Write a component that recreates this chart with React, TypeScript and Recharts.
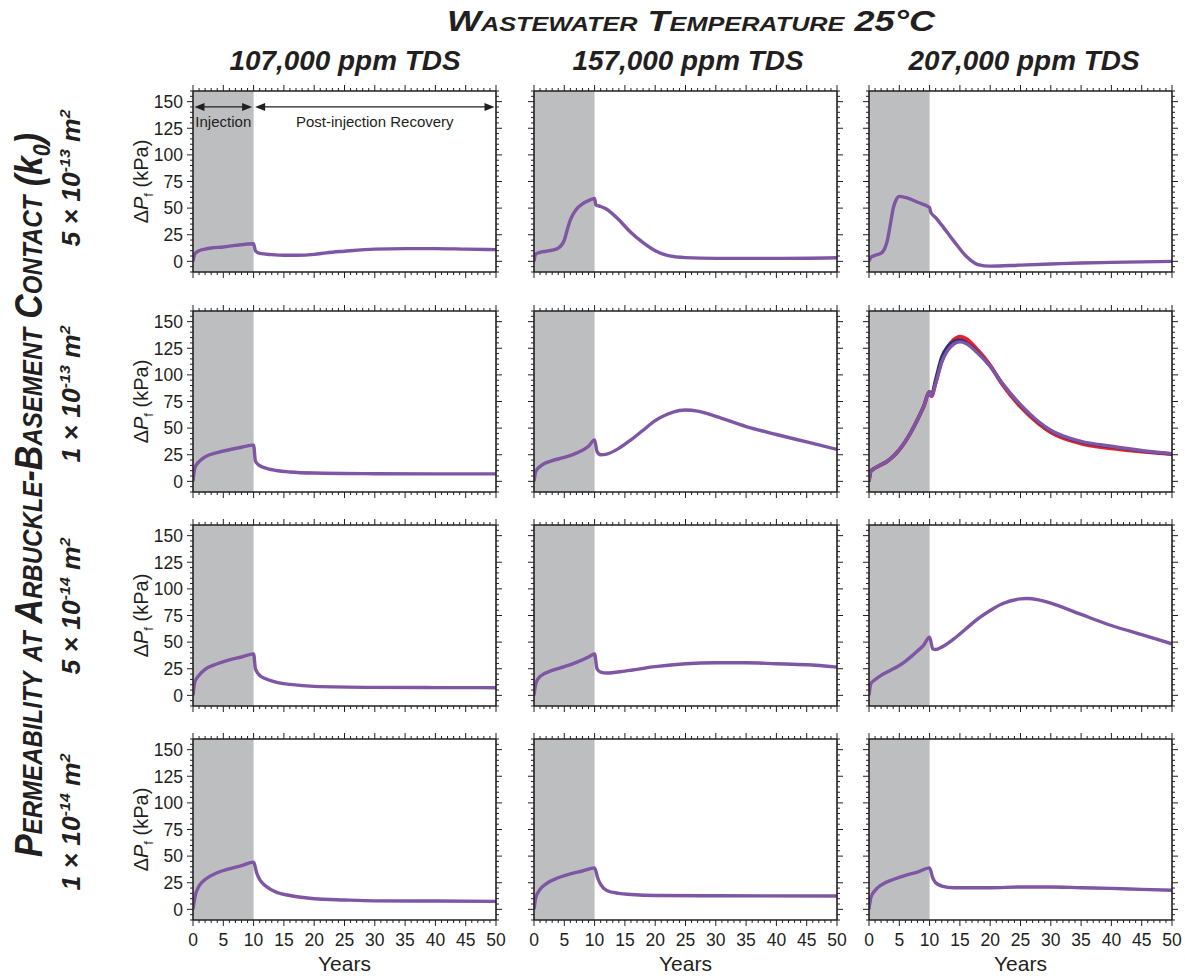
import React from 'react';
import { LineChart, Line, XAxis, YAxis, ReferenceArea, ReferenceLine } from 'recharts';

// ---- data (ΔPf in kPa vs. years) ----
// rows: permeability 5e-13, 1e-13, 5e-14, 1e-14 m2 ; cols: 107k, 157k, 207k ppm TDS

const t11 = [0, 0.3, 1, 2, 3, 5, 7, 10, 10.3, 11, 13, 15, 17, 20, 22, 25, 30, 35, 40, 45, 50];
const dp11 = [0, 7, 10, 11.5, 12.5, 13.5, 15, 16.5, 10, 7.5, 6.3, 5.7, 5.7, 6.5, 8, 9.5, 11.5, 12, 12, 11.5, 11];

const t12 = [0, 0.3, 1, 2, 3, 4, 4.5, 5, 5.5, 6, 7, 8, 9, 10, 10.2, 11, 12, 14, 16, 18, 20, 22, 25, 30, 40, 50];
const dp12 = [0, 7, 8.5, 9.5, 10.5, 12.5, 15, 20, 30, 39, 49, 54, 57, 59, 53, 51.5, 49, 39, 27, 17.5, 10, 5.6, 3.5, 2.8, 2.8, 3.4];

const t13 = [0, 0.3, 1, 2, 2.5, 3, 3.5, 4, 4.5, 5, 6, 8, 10, 10.2, 11, 12, 14, 16, 18, 20, 25, 30, 35, 40, 50];
const dp13 = [0, 3.8, 5.6, 7.8, 11, 19, 34, 50, 58, 61, 60, 55.5, 50.5, 46, 41, 34, 19, 5, -3, -4.5, -3.5, -2.5, -1.5, -1, 0];

const t21 = [0, 0.3, 1, 2, 4, 6, 8, 10, 10.3, 11, 12, 14, 16, 20, 30, 40, 50];
const dp21 = [0, 12.5, 18.5, 23, 27, 29.7, 32, 34, 19, 14.7, 12.5, 10, 8.8, 7.8, 7.2, 7, 7];

const t22 = [0, 0.3, 1, 3, 5, 7, 9, 10, 10.4, 11, 12, 14, 16, 18, 20, 22, 24, 25, 27, 30, 35, 40, 45, 50];
const dp22 = [0, 9.4, 14, 19.4, 22.5, 26.5, 33, 39, 28, 25, 25.6, 31, 39, 48, 57, 63, 66.5, 67, 66, 61, 51.5, 44, 37, 30];

const t23 = [0, 0.3, 1, 2, 3, 4, 5, 6, 7, 8, 9, 10, 10.3, 11, 12, 13, 14, 15, 16, 18, 20, 22, 25, 28, 30, 35, 40, 45, 50];
const dp23Red = [0, 9.4, 12.5, 15.6, 18.8, 23.4, 29.7, 37.5, 47, 58, 70, 84, 80, 93, 113, 126, 133, 136, 134, 123, 109, 91, 70, 54, 46, 35.5, 31, 28, 25.5];
const dp23Navy = [0, 9.4, 12.5, 15.6, 18.8, 23.4, 29.7, 37.5, 47, 58, 70, 84, 81, 96, 117, 127, 131.5, 133, 130.5, 121, 108, 92, 71.5, 55.5, 47.5, 37, 32.5, 28.5, 25.5];
const dp23 = [0, 9.4, 12.5, 15.6, 18.8, 23.4, 29.7, 37.5, 47, 58, 70, 84, 80, 92, 112, 123, 129, 131, 129.5, 120, 108, 92, 72, 56, 48, 37.5, 33, 29, 26];

const t31 = [0, 0.3, 1, 2, 4, 6, 8, 10, 10.3, 11, 12, 14, 16, 20, 30, 40, 50];
const dp31 = [0, 12.5, 18.8, 24.4, 29.7, 33.4, 36, 39, 25, 18.8, 15.6, 12, 10.3, 8.4, 7.5, 7.3, 7.2];

const t32 = [0, 0.3, 1, 3, 5, 7, 9, 10, 10.4, 11, 12, 15, 20, 25, 30, 35, 40, 45, 50];
const dp32 = [0, 11, 17.8, 23.4, 27, 31, 36, 39, 25, 21.9, 21, 22.8, 27, 29.7, 30.6, 30.6, 29.7, 28.7, 26.5];

const t33 = [0, 0.3, 1, 2, 3, 4, 5, 6, 7, 8, 9, 10, 10.5, 11, 12, 14, 16, 18, 20, 22, 25, 26, 28, 30, 35, 40, 45, 50];
const dp33 = [0, 11, 14.7, 18.8, 21.9, 25, 28, 32, 36.6, 41.6, 47, 54.7, 43.8, 43, 45.3, 53, 62.5, 72, 79.7, 86, 90.6, 91, 89.7, 86.6, 76, 65.6, 57, 48.4];

const t41 = [0, 0.3, 1, 2, 4, 6, 8, 10, 10.5, 11, 12, 14, 16, 20, 25, 30, 40, 50];
const dp41 = [0, 11, 21.9, 28, 34.4, 38, 41, 44.4, 34.4, 28, 21.9, 15.6, 13, 10, 8.8, 8, 7.8, 7.5];

const t42 = [0, 0.3, 1, 2, 4, 6, 8, 10, 10.5, 11, 12, 14, 16, 20, 30, 50];
const dp42 = [0, 11, 18.8, 24, 29.7, 33.4, 36, 39, 29.7, 23.4, 17.8, 15, 14, 13, 12.8, 12.5];

const t43 = [0, 0.3, 1, 2, 4, 6, 8, 10, 10.5, 11, 12, 14, 20, 25, 30, 35, 40, 45, 50];
const dp43 = [0, 11, 17.8, 22.8, 28, 32, 35, 39, 29.7, 25, 21.9, 20.3, 20.3, 21, 21, 20.3, 19.7, 18.8, 18];

const tdsLabels = ['107,000 ppm TDS', '157,000 ppm TDS', '207,000 ppm TDS'];
const permLabels = [
  { m: '5', e: '-13' },
  { m: '1', e: '-13' },
  { m: '5', e: '-14' },
  { m: '1', e: '-14' },
];
const phases = [
  { name: 'Injection', from: 0, to: 10 },
  { name: 'Post-injection Recovery', from: 10, to: 50 },
];
const PHASE_Y = 145;
const INJ_END = 10;

const X_TICKS = Array.from({ length: 51 }, (_, i) => i);
const Y_TICKS = Array.from({ length: 35 }, (_, i) => -10 + i * 5);

// ---- styling / layout ----
const INK = '#231f20';
const GRAY = '#bcbec0';
const PURPLE = '#7f56a3';
const RED = '#e8202a';
const NAVY = '#27307a';
const FONT = '"Liberation Sans", Arial, Helvetica, sans-serif';

const COL_X = [193, 534, 869];
const ROW_Y = [91, 311, 525, 739];
const PW = 303;
const PH = 181;
const AX = 1;
const ML = 69;
const MR = 29;
const MT = 19;
const MB = 59;
const CW = PW + ML + MR + 2 * AX;
const CH = PH + MT + MB + 2 * AX;
const FRAME = { stroke: INK, strokeWidth: 1.6 };

type Series = { dp: number[]; color: string; width: number };
type Cell = { t: number[]; lines: Series[] };

const pts = (t: number[], dp: number[]) => t.map((x, i) => ({ t: x, dp: dp[i] }));
const one = (t: number[], dp: number[]): Cell => ({ t, lines: [{ dp, color: PURPLE, width: 3.4 }] });

const GRID: Cell[][] = [
  [one(t11, dp11), one(t12, dp12), one(t13, dp13)],
  [
    one(t21, dp21),
    one(t22, dp22),
    {
      t: t23,
      lines: [
        { dp: dp23Red, color: RED, width: 3.8 },
        { dp: dp23Navy, color: NAVY, width: 3.2 },
        { dp: dp23, color: PURPLE, width: 3.4 },
      ],
    },
  ],
  [one(t31, dp31), one(t32, dp32), one(t33, dp33)],
  [one(t41, dp41), one(t42, dp42), one(t43, dp43)],
];

const isMajorX = (v: number) => v % 5 === 0;
const isMajorY = (v: number) => v % 25 === 0;

const BottomTick = ({ x, y, payload, show }: any) => {
  const major = isMajorX(payload.value);
  return (
    <g>
      <line x1={x} x2={x} y1={y} y2={y + (major ? 6 : 3)} stroke={INK} strokeWidth={1} />
      {show && major && (
        <text x={x} y={y + 26} textAnchor="middle" fontSize={17.5} fill={INK} fontFamily={FONT}>
          {payload.value}
        </text>
      )}
    </g>
  );
};

const TopTick = ({ x, y, payload }: any) => (
  <line x1={x} x2={x} y1={y} y2={y - (isMajorX(payload.value) ? 6 : 3)} stroke={INK} strokeWidth={1} />
);

const LeftTick = ({ x, y, payload, show }: any) => {
  const major = isMajorY(payload.value);
  return (
    <g>
      <line x1={x} x2={x - (major ? 6 : 3)} y1={y} y2={y} stroke={INK} strokeWidth={1} />
      {show && major && (
        <text x={x - 10} y={y} dy="0.36em" textAnchor="end" fontSize={17.5} fill={INK} fontFamily={FONT}>
          {payload.value}
        </text>
      )}
    </g>
  );
};

const RightTick = ({ x, y, payload }: any) => (
  <line x1={x} x2={x + (isMajorY(payload.value) ? 6 : 3)} y1={y} y2={y} stroke={INK} strokeWidth={1} />
);

const YLabel = ({ viewBox }: any) => {
  const vb = viewBox ?? { x: ML, y: MT + AX, width: AX, height: PH };
  const cx = vb.x + vb.width - 45;
  const cy = vb.y + vb.height / 2;
  return (
    <text transform={`rotate(-90, ${cx}, ${cy})`} x={cx} y={cy} textAnchor="middle" fontSize={20} fill={INK} fontFamily={FONT}>
      Δ<tspan fontStyle="italic">P</tspan>
      <tspan fontSize={13} dy={5}>f</tspan>
      <tspan dy={-5}> (kPa)</tspan>
    </text>
  );
};

const arrowShape = (name: string) => (p: any) => {
  const { x1, y1, x2 } = p;
  const a = x1 + 1.5;
  const b = x2 - 1.5;
  const hl = 10;
  const hw = 4;
  return (
    <g>
      <line x1={a + hl - 1} x2={b - hl + 1} y1={y1} y2={y1} stroke={INK} strokeWidth={1.3} />
      <polygon points={`${a},${y1} ${a + hl},${y1 - hw} ${a + hl},${y1 + hw}`} fill={INK} />
      <polygon points={`${b},${y1} ${b - hl},${y1 - hw} ${b - hl},${y1 + hw}`} fill={INK} />
      <text x={(x1 + x2) / 2} y={y1 + 20} textAnchor="middle" fontSize={15} fill={INK} fontFamily={FONT}>
        {name}
      </text>
    </g>
  );
};

function Panel({ cell, showY, showX, annotate }: { cell: Cell; showY: boolean; showX: boolean; annotate: boolean }) {
  return (
    <LineChart width={CW} height={CH} margin={{ top: MT, right: MR, bottom: MB, left: ML }}>
      <XAxis
        xAxisId="b"
        orientation="bottom"
        type="number"
        dataKey="t"
        domain={[0, 50]}
        ticks={X_TICKS}
        interval={0}
        allowDataOverflow
        height={AX}
        tickSize={0}
        tickMargin={0}
        axisLine={FRAME}
        tickLine={false}
        tick={(p: any) => <BottomTick {...p} show={showX} />}
        label={showX ? { value: 'Years', position: 'bottom', offset: 35, fontSize: 21, fill: INK, fontFamily: FONT } : undefined}
      />
      <XAxis
        xAxisId="t"
        orientation="top"
        type="number"
        dataKey="t"
        domain={[0, 50]}
        ticks={X_TICKS}
        interval={0}
        allowDataOverflow
        height={AX}
        tickSize={0}
        tickMargin={0}
        axisLine={FRAME}
        tickLine={false}
        tick={(p: any) => <TopTick {...p} />}
      />
      <YAxis
        yAxisId="l"
        orientation="left"
        type="number"
        domain={[-10, 160]}
        ticks={Y_TICKS}
        interval={0}
        allowDataOverflow
        width={AX}
        tickSize={0}
        tickMargin={0}
        axisLine={FRAME}
        tickLine={false}
        tick={(p: any) => <LeftTick {...p} show={showY} />}
        label={showY ? { content: (p: any) => <YLabel {...p} /> } : undefined}
      />
      <YAxis
        yAxisId="r"
        orientation="right"
        type="number"
        domain={[-10, 160]}
        ticks={Y_TICKS}
        interval={0}
        allowDataOverflow
        width={AX}
        tickSize={0}
        tickMargin={0}
        axisLine={FRAME}
        tickLine={false}
        tick={(p: any) => <RightTick {...p} />}
      />
      <ReferenceArea xAxisId="b" yAxisId="l" x1={0} x2={INJ_END} y1={-10} y2={160} fill={GRAY} fillOpacity={1} stroke="none" />
      {annotate &&
        phases.map((ph) => (
          <ReferenceLine
            key={ph.name}
            xAxisId="b"
            yAxisId="l"
            segment={[
              { x: ph.from, y: PHASE_Y },
              { x: ph.to, y: PHASE_Y },
            ]}
            shape={arrowShape(ph.name)}
          />
        ))}
      {cell.lines.map((s, i) => (
        <Line
          key={i}
          xAxisId="b"
          yAxisId="l"
          data={pts(cell.t, s.dp)}
          dataKey="dp"
          type="monotone"
          stroke={s.color}
          strokeWidth={s.width}
          dot={false}
          activeDot={false}
          isAnimationActive={false}
        />
      ))}
    </LineChart>
  );
}

const HEAD = { fontWeight: 'bold' as const, fontStyle: 'italic' as const, fill: INK, fontFamily: FONT };
const ROW_CY = [178, 394, 606, 822];
const COL_CX = [345, 688, 1024];

export default function App() {
  return (
    <div style={{ position: 'absolute', left: 0, top: 0, width: 1185, height: 976, background: '#fff', fontFamily: FONT }}>
      {GRID.map((row, r) =>
        row.map((cell, c) => (
          <div key={`${r}-${c}`} style={{ position: 'absolute', left: COL_X[c] - ML - AX, top: ROW_Y[r] - MT - AX }}>
            <Panel cell={cell} showY={c === 0} showX={r === 3} annotate={r === 0 && c === 0} />
          </div>
        ))
      )}
      <svg width={1185} height={976} style={{ position: 'absolute', left: 0, top: 0, pointerEvents: 'none' }}>
        <text x={691} y={31} textAnchor="middle" fontSize={30} {...HEAD} style={{ fontVariant: 'small-caps' }} textLength={488} lengthAdjust="spacingAndGlyphs">
          Wastewater Temperature 25°C
        </text>
        {tdsLabels.map((s, i) => (
          <text key={s} x={COL_CX[i]} y={70} textAnchor="middle" fontSize={27} {...HEAD} textLength={231} lengthAdjust="spacingAndGlyphs">
            {s}
          </text>
        ))}
        {permLabels.map((p, i) => (
          <text
            key={i}
            x={80}
            y={ROW_CY[i]}
            transform={`rotate(-90, 80, ${ROW_CY[i]})`}
            textAnchor="middle"
            fontSize={25}
            {...HEAD}
            textLength={137}
            lengthAdjust="spacingAndGlyphs"
          >
            {p.m} × 10<tspan dy={-10} fontSize={15}>{p.e}</tspan>
            <tspan dy={10}> m</tspan>
            <tspan dy={-10} fontSize={15}>2</tspan>
          </text>
        ))}
        <text
          x={42}
          y={495}
          transform="rotate(-90, 42, 495)"
          textAnchor="middle"
          fontSize={38}
          {...HEAD}
          textLength={724}
          lengthAdjust="spacingAndGlyphs"
        >
          <tspan style={{ fontVariant: 'small-caps' }}>Permeability at Arbuckle-Basement Contact (</tspan>
          <tspan>k</tspan>
          <tspan dy={8} fontSize={24}>0</tspan>
          <tspan dy={-8}>)</tspan>
        </text>
      </svg>
    </div>
  );
}
